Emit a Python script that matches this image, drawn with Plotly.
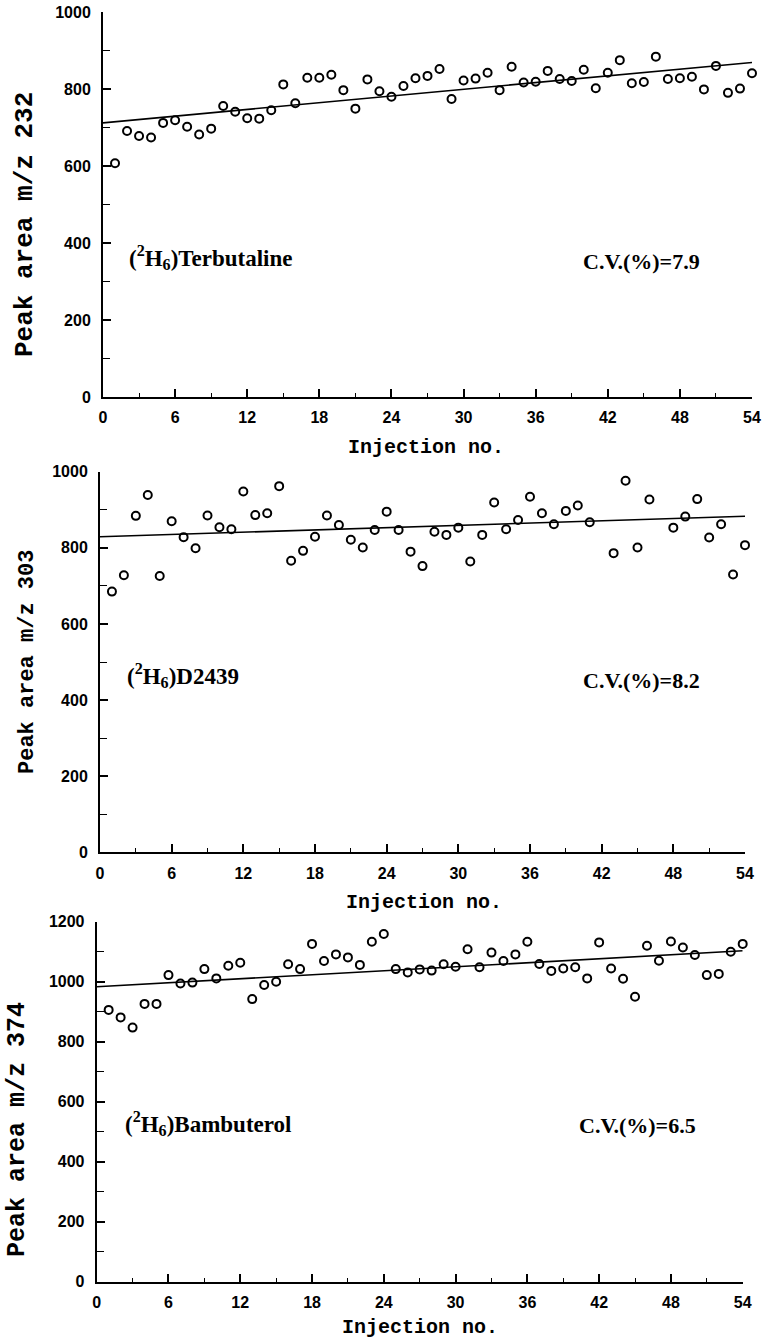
import plotly.graph_objects as go

W, H = 763, 1342

injection = list(range(1, 55))

terbutaline = [607, 691, 678, 674, 712, 719, 702, 682, 697, 756,
               741, 724, 723, 745, 812, 763, 829, 829, 837, 797,
               749, 825, 794, 780, 808, 828, 834, 852, 774, 822,
               827, 842, 797, 858, 817, 819, 847, 826, 821, 850,
               802, 842, 875, 815, 818, 884, 826, 828, 832, 799,
               860, 790, 801, 841]

d2439 = [685, 728, 884, 939, 726, 870, 828, 799, 885, 854,
         849, 948, 886, 891, 962, 766, 792, 829, 885, 860,
         821, 801, 847, 895, 847, 790, 752, 842, 834, 853,
         764, 834, 919, 849, 873, 934, 891, 862, 897, 911,
         867, None, 786, 976, 801, 927, None, 853, 882, 928,
         827, 862, 730, 807]

bambuterol = [906, 881, 847, 926, 926, 1022, 994, 997, 1042, 1011,
              1053, 1063, 942, 989, 1000, 1058, 1042, 1126, 1069, 1091,
              1081, 1056, 1133, 1159, 1042, 1031, 1041, 1037, 1058, 1050,
              1108, 1048, 1097, 1069, 1091, 1133, 1059, 1036, 1044, 1048,
              1011, 1131, 1044, 1010, 950, 1120, 1070, 1134, 1114, 1089,
              1022, 1026, 1100, 1126]

# regression line values at injection 0 and 54
fit_x = [0, 54]
terbutaline_fit = [712, 869]
d2439_fit = [829, 883]
bambuterol_fit = [983, 1103]

compound_labels = ["(<sup>2</sup>H<sub>6</sub>)Terbutaline",
                   "(<sup>2</sup>H<sub>6</sub>)D2439",
                   "(<sup>2</sup>H<sub>6</sub>)Bambuterol"]
cv_labels = ["C.V.(%)=7.9", "C.V.(%)=8.2", "C.V.(%)=6.5"]
y_titles = ["Peak area m/z 232", "Peak area m/z 303", "Peak area m/z 374"]
x_title = "Injection no."
y_max = [1000, 1000, 1200]

# layout geometry in pixels (left, right, top, bottom of plot area)
panels = [
    dict(l=103, r=752, t=12, b=397, ytx=25, yty=225, ytsize=26,
         xtx=426, xty=447, lab=(127, 258), cv=(581, 261)),
    dict(l=100, r=745, t=471.7, b=852.3, ytx=27, yty=662, ytsize=22,
         xtx=424, xty=902, lab=(125, 675), cv=(581, 680)),
    dict(l=96.7, r=742.7, t=921.7, b=1281.7, ytx=17, yty=1130, ytsize=25,
         xtx=420, xty=1327, lab=(123, 1123), cv=(577, 1125)),
]

series = [terbutaline, d2439, bambuterol]
fits = [terbutaline_fit, d2439_fit, bambuterol_fit]

fig = go.Figure()
layout = dict(width=W, height=H, margin=dict(l=0, r=0, t=0, b=0, autoexpand=False),
              paper_bgcolor="white", plot_bgcolor="white", showlegend=False)
annotations = []

for i, (p, ys, fy) in enumerate(zip(panels, series, fits)):
    n = "" if i == 0 else str(i + 1)
    xa, ya = "x" + n, "y" + n
    tickfont = dict(family="Liberation Sans", size=16, color="black", weight=700)
    fig.add_trace(go.Scatter(x=fit_x, y=fy, mode="lines", xaxis=xa, yaxis=ya,
                             line=dict(color="black", width=1.6), hoverinfo="skip",
                             cliponaxis=False))
    fig.add_trace(go.Scatter(x=injection, y=ys, mode="markers", xaxis=xa, yaxis=ya,
                             cliponaxis=False,
                             marker=dict(symbol="circle-open", size=8, color="black",
                                         line=dict(color="black", width=2))))
    layout["xaxis" + n] = dict(
        domain=[p["l"] / W, p["r"] / W], anchor=ya, range=[0, 54],
        tick0=0, dtick=6, ticks="inside", ticklen=8, tickwidth=1.5, tickcolor="black",
        minor=dict(ticks="inside", dtick=3, tick0=0, ticklen=4, tickwidth=1.2, tickcolor="black"),
        showline=True, linecolor="black", linewidth=2, showgrid=False, zeroline=False,
        tickfont=tickfont, ticklabelstandoff=5, automargin=False)
    layout["yaxis" + n] = dict(
        domain=[1 - p["b"] / H, 1 - p["t"] / H], anchor=xa, range=[0, y_max[i]],
        tick0=0, dtick=200, ticks="inside", ticklen=8, tickwidth=1.5, tickcolor="black",
        minor=dict(ticks="inside", dtick=100, tick0=0, ticklen=7, tickwidth=1.2, tickcolor="black"),
        showline=True, linecolor="black", linewidth=2, showgrid=False, zeroline=False,
        tickfont=tickfont, ticklabelstandoff=7, automargin=False)
    annotations.append(dict(text=y_titles[i], xref="paper", yref="paper",
                            x=p["ytx"] / W, y=1 - p["yty"] / H, xanchor="center", yanchor="middle",
                            textangle=-90, showarrow=False,
                            font=dict(family="Liberation Mono", size=p["ytsize"], color="black", weight=700)))
    annotations.append(dict(text=x_title, xref="paper", yref="paper",
                            x=p["xtx"] / W, y=1 - p["xty"] / H, xanchor="center", yanchor="middle",
                            showarrow=False,
                            font=dict(family="Liberation Mono", size=20, color="black", weight=700)))
    annotations.append(dict(text=compound_labels[i], xref="paper", yref="paper",
                            x=p["lab"][0] / W, y=1 - p["lab"][1] / H, xanchor="left", yanchor="middle",
                            showarrow=False,
                            font=dict(family="Liberation Serif", size=23, color="black", weight=700)))
    annotations.append(dict(text=cv_labels[i], xref="paper", yref="paper",
                            x=p["cv"][0] / W, y=1 - p["cv"][1] / H, xanchor="left", yanchor="middle",
                            showarrow=False,
                            font=dict(family="Liberation Serif", size=22, color="black", weight=700)))

layout["annotations"] = annotations
fig.update_layout(**layout)
fig.write_html("out.html", config={"displayModeBar": False},
               post_script="document.body.style.margin='0';document.body.style.overflow='hidden';")
